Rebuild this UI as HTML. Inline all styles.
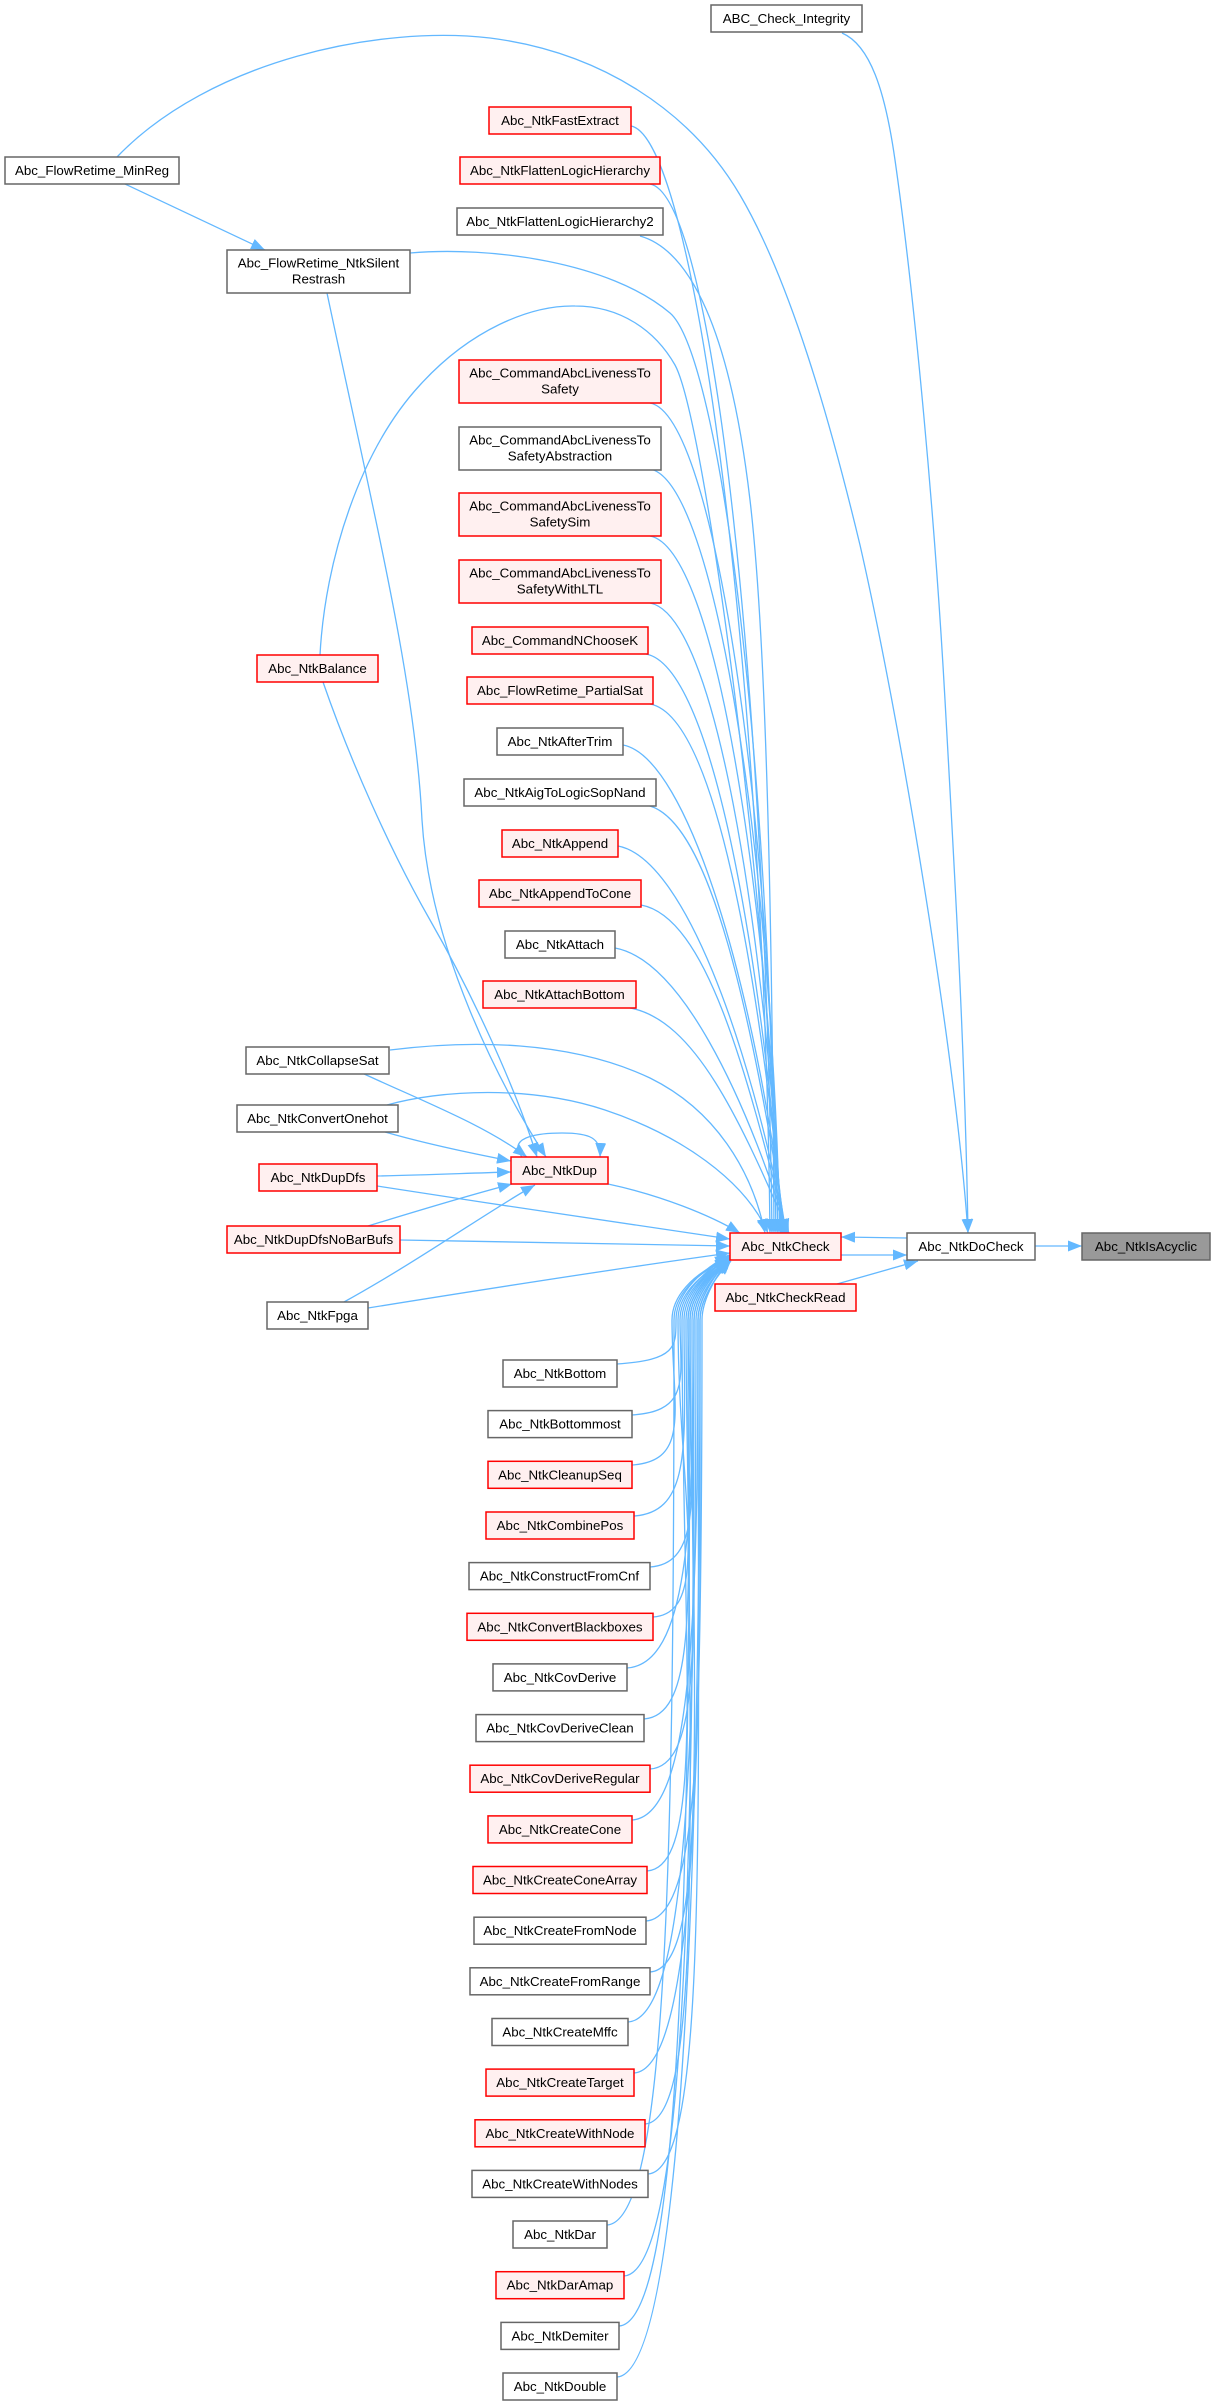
<!DOCTYPE html>
<html>
<head>
<meta charset="utf-8">
<style>
html,body{margin:0;padding:0;background:#fff;}
svg{display:block;}
text{font-family:"Liberation Sans",Arial,Helvetica,sans-serif;font-size:13.33px;fill:#000;text-anchor:middle;}
.r{fill:#fff0f0;stroke:#ff0000;stroke-width:1.5;}
.b{fill:#ffffff;stroke:#666666;stroke-width:1.5;}
.g{fill:#999999;stroke:#666666;stroke-width:1.5;}
.e{fill:none;stroke:#63b8ff;stroke-width:1.3;marker-end:url(#a);}
</style>
</head>
<body>
<svg width="1215" height="2405" viewBox="0 0 1215 2405" xmlns="http://www.w3.org/2000/svg">
<defs>
<marker id="a" viewBox="0 0 14 11" refX="14" refY="5.5" markerWidth="14" markerHeight="11" markerUnits="userSpaceOnUse" orient="auto">
<path d="M0,0L14,5.5L0,11z" fill="#63b8ff"/>
</marker>
</defs>

<!-- ===== EDGES ===== -->
<!-- to DoCheck -->
<path class="e" d="M117,157 C210,60 380,25 490,38 C600,52 690,110 740,195 C790,280 830,420 860,545 C900,720 955,1050 968,1233"/>
<path class="e" d="M842,33 C870,45 885,90 895,160 C915,300 935,520 945,700 C955,880 965,1050 968,1233"/>
<!-- MinReg -> Restrash -->
<path class="e" d="M125,184 L265,250"/>
<!-- Restrash -> Check -->
<path class="e" d="M410,253 C490,246 610,262 670,313 C715,352 768,700 776,1233"/>
<!-- Balance -> Check -->
<path class="e" d="M320,655 C325,560 360,450 420,385 C470,330 530,305 575,306 C620,306 655,330 675,365 C705,420 770,900 778,1233"/>
<!-- to Dup from top -->
<path class="e" d="M327,293 C375,520 415,680 422,820 C430,950 500,1085 546,1157"/>
<path class="e" d="M323,682 C350,760 390,850 430,920 C470,990 515,1085 537,1157"/>
<path class="e" d="M362,1073 C420,1100 485,1125 527,1157"/>
<!-- CollapseSat/ConvertOnehot -> Check -->
<path class="e" d="M390,1050 C470,1040 570,1040 650,1078 C715,1110 752,1170 765,1233"/>
<path class="e" d="M387,1105 C440,1090 530,1085 605,1110 C680,1135 745,1180 768,1233"/>
<!-- left to Dup -->
<path class="e" d="M385,1132 C430,1145 480,1155 511,1161"/>
<path class="e" d="M377,1176 C430,1175 470,1173 511,1172"/>
<path class="e" d="M368,1226 C420,1210 470,1195 512,1184"/>
<path class="e" d="M344,1302 C420,1260 490,1210 535,1185"/>
<!-- left to Check -->
<path class="e" d="M377,1186 C500,1205 650,1228 730,1239"/>
<path class="e" d="M400,1240 C520,1242 650,1245 730,1246"/>
<path class="e" d="M368,1308 C480,1290 620,1268 730,1253"/>
<!-- Dup -> Check -->
<path class="e" d="M608,1184 C660,1195 710,1215 740,1233"/>
<!-- Dup self loop -->
<path class="e" d="M522,1157 C505,1135 545,1133 562,1133 C590,1133 601,1138 600,1157"/>
<!-- Check <-> DoCheck etc -->
<path class="e" d="M907,1238 L841,1237"/>
<path class="e" d="M841,1255 L907,1255"/>
<path class="e" d="M837,1284 L918,1261"/>
<path class="e" d="M1035,1246 L1082,1246"/>

<!-- upper center column -> Check -->
<path class="e" d="M631,126 C696,138 764,680 770,1233"/>
<path class="e" d="M650,184 C715,196 766,708 772,1233"/>
<path class="e" d="M640,236 C690,250 730,330 750,500 C766,636 772,900 774,1233"/>
<path class="e" d="M650,403 C715,415 772,818 778,1233"/>
<path class="e" d="M650,469 C715,481 771,851 780,1233"/>
<path class="e" d="M650,536 C715,548 767,884 781,1233"/>
<path class="e" d="M650,603 C715,615 763,918 782,1233"/>
<path class="e" d="M646,654 C711,666 760,943 783,1233"/>
<path class="e" d="M650,704 C715,716 758,968 784,1233"/>
<path class="e" d="M623,745 C688,757 756,989 785,1233"/>
<path class="e" d="M646,805 C711,817 752,1019 786,1233"/>
<path class="e" d="M618,846 C683,858 749,1039 786,1233"/>
<path class="e" d="M641,905 C706,917 746,1069 787,1233"/>
<path class="e" d="M615,948 C680,960 743,1090 788,1233"/>
<path class="e" d="M630,1008 C695,1020 740,1120 789,1233"/>

<!-- lower center column -> Check -->
<path class="e" d="M617,1364 C677,1360 676,1346 676,1320 C676,1298 694,1274 729,1255"/>
<path class="e" d="M632,1415 C692,1411 680,1377 680,1320 C680,1298 698,1274 730,1256"/>
<path class="e" d="M632,1465 C692,1461 672,1407 672,1320 C672,1298 690,1274 731,1257"/>
<path class="e" d="M634,1516 C694,1512 684,1438 684,1320 C684,1298 702,1274 729,1258"/>
<path class="e" d="M650,1567 C710,1563 688,1468 688,1320 C688,1298 706,1274 730,1259"/>
<path class="e" d="M653,1617 C713,1613 678,1498 678,1320 C678,1298 696,1274 731,1260"/>
<path class="e" d="M627,1668 C687,1664 694,1529 694,1320 C694,1298 712,1274 729,1261"/>
<path class="e" d="M644,1719 C704,1715 686,1559 686,1320 C686,1298 704,1274 730,1255"/>
<path class="e" d="M650,1769 C710,1765 690,1589 690,1320 C690,1298 708,1274 731,1256"/>
<path class="e" d="M632,1820 C692,1816 698,1620 698,1320 C698,1298 716,1274 729,1257"/>
<path class="e" d="M647,1871 C707,1867 682,1651 682,1320 C682,1298 700,1274 730,1258"/>
<path class="e" d="M646,1921 C706,1917 700,1681 700,1320 C700,1298 718,1274 731,1259"/>
<path class="e" d="M650,1972 C710,1968 692,1711 692,1320 C692,1298 710,1274 729,1260"/>
<path class="e" d="M628,2022 C688,2018 696,1741 696,1320 C696,1298 714,1274 730,1261"/>
<path class="e" d="M634,2073 C694,2069 702,1772 702,1320 C702,1298 718,1274 731,1255"/>
<path class="e" d="M645,2124 C705,2120 688,1802 688,1320 C688,1298 706,1274 729,1256"/>
<path class="e" d="M648,2174 C708,2170 698,1832 698,1320 C698,1298 716,1274 730,1257"/>
<path class="e" d="M607,2225 C667,2221 674,1863 674,1320 C674,1298 692,1274 731,1258"/>
<path class="e" d="M624,2276 C684,2272 694,1894 694,1320 C694,1298 712,1274 729,1259"/>
<path class="e" d="M619,2326 C679,2322 690,1924 690,1320 C690,1298 708,1274 730,1260"/>
<path class="e" d="M617,2377 C677,2373 700,1954 700,1320 C700,1298 718,1274 731,1261"/>

<!-- ===== NODES ===== -->
<!-- right side -->
<rect class="b" x="711" y="5" width="151" height="27"/><text x="786.5" y="23">ABC_Check_Integrity</text>
<rect class="b" x="907" y="1233" width="128" height="27"/><text x="971" y="1251">Abc_NtkDoCheck</text>
<rect class="g" x="1082" y="1233" width="128" height="27"/><text x="1146" y="1251">Abc_NtkIsAcyclic</text>
<rect class="r" x="730" y="1233" width="111" height="27"/><text x="785.5" y="1251">Abc_NtkCheck</text>
<rect class="r" x="715" y="1284" width="141" height="27"/><text x="785.5" y="1302">Abc_NtkCheckRead</text>

<!-- left column -->
<rect class="b" x="5" y="157" width="174" height="27"/><text x="92" y="175">Abc_FlowRetime_MinReg</text>
<rect class="b" x="227" y="250" width="183" height="43"/><text x="318.5" y="267.5">Abc_FlowRetime_NtkSilent</text><text x="318.5" y="283.5">Restrash</text>
<rect class="r" x="257" y="655" width="121" height="27"/><text x="317.5" y="673">Abc_NtkBalance</text>
<rect class="b" x="246" y="1047" width="143" height="27"/><text x="317.5" y="1065">Abc_NtkCollapseSat</text>
<rect class="b" x="237" y="1105" width="161" height="27"/><text x="317.5" y="1123">Abc_NtkConvertOnehot</text>
<rect class="r" x="259" y="1164" width="118" height="27"/><text x="318" y="1182">Abc_NtkDupDfs</text>
<rect class="r" x="227" y="1226" width="173" height="27"/><text x="313.5" y="1244">Abc_NtkDupDfsNoBarBufs</text>
<rect class="b" x="267" y="1302" width="101" height="27"/><text x="317.5" y="1320">Abc_NtkFpga</text>

<!-- center upper -->
<rect class="r" x="489" y="107" width="142" height="27"/><text x="560" y="125">Abc_NtkFastExtract</text>
<rect class="r" x="460" y="157" width="200" height="27"/><text x="560" y="175">Abc_NtkFlattenLogicHierarchy</text>
<rect class="b" x="457" y="208" width="206" height="27"/><text x="560" y="226">Abc_NtkFlattenLogicHierarchy2</text>
<rect class="r" x="459" y="360" width="202" height="43"/><text x="560" y="377.5">Abc_CommandAbcLivenessTo</text><text x="560" y="393.5">Safety</text>
<rect class="b" x="459" y="427" width="202" height="43"/><text x="560" y="444.5">Abc_CommandAbcLivenessTo</text><text x="560" y="460.5">SafetyAbstraction</text>
<rect class="r" x="459" y="493" width="202" height="43"/><text x="560" y="510.5">Abc_CommandAbcLivenessTo</text><text x="560" y="526.5">SafetySim</text>
<rect class="r" x="459" y="560" width="202" height="43"/><text x="560" y="577.5">Abc_CommandAbcLivenessTo</text><text x="560" y="593.5">SafetyWithLTL</text>
<rect class="r" x="472" y="627" width="176" height="27"/><text x="560" y="645">Abc_CommandNChooseK</text>
<rect class="r" x="467" y="677" width="186" height="27"/><text x="560" y="695">Abc_FlowRetime_PartialSat</text>
<rect class="b" x="497" y="728" width="126" height="27"/><text x="560" y="746">Abc_NtkAfterTrim</text>
<rect class="b" x="464" y="779" width="192" height="27"/><text x="560" y="797">Abc_NtkAigToLogicSopNand</text>
<rect class="r" x="502" y="830" width="116" height="27"/><text x="560" y="848">Abc_NtkAppend</text>
<rect class="r" x="479" y="880" width="162" height="27"/><text x="560" y="898">Abc_NtkAppendToCone</text>
<rect class="b" x="505" y="931" width="110" height="27"/><text x="560" y="949">Abc_NtkAttach</text>
<rect class="r" x="483" y="981" width="153" height="27"/><text x="559.5" y="999">Abc_NtkAttachBottom</text>
<rect class="r" x="511" y="1157" width="97" height="27"/><text x="559.5" y="1175">Abc_NtkDup</text>

<!-- center lower -->
<rect class="b" x="503" y="1360" width="114" height="27"/><text x="560" y="1378">Abc_NtkBottom</text>
<rect class="b" x="488" y="1410.6" width="144" height="27"/><text x="560" y="1428.6">Abc_NtkBottommost</text>
<rect class="r" x="488" y="1461.3" width="144" height="27"/><text x="560" y="1479.3">Abc_NtkCleanupSeq</text>
<rect class="r" x="486" y="1512" width="148" height="27"/><text x="560" y="1530">Abc_NtkCombinePos</text>
<rect class="b" x="469" y="1562.6" width="181" height="27"/><text x="559.5" y="1580.6">Abc_NtkConstructFromCnf</text>
<rect class="r" x="467" y="1613.3" width="186" height="27"/><text x="560" y="1631.3">Abc_NtkConvertBlackboxes</text>
<rect class="b" x="493" y="1663.9" width="134" height="27"/><text x="560" y="1681.9">Abc_NtkCovDerive</text>
<rect class="b" x="476" y="1714.6" width="168" height="27"/><text x="560" y="1732.6">Abc_NtkCovDeriveClean</text>
<rect class="r" x="470" y="1765.2" width="180" height="27"/><text x="560" y="1783.2">Abc_NtkCovDeriveRegular</text>
<rect class="r" x="488" y="1815.9" width="144" height="27"/><text x="560" y="1833.9">Abc_NtkCreateCone</text>
<rect class="r" x="473" y="1866.5" width="174" height="27"/><text x="560" y="1884.5">Abc_NtkCreateConeArray</text>
<rect class="b" x="474" y="1917.2" width="172" height="27"/><text x="560" y="1935.2">Abc_NtkCreateFromNode</text>
<rect class="b" x="470" y="1967.8" width="180" height="27"/><text x="560" y="1985.8">Abc_NtkCreateFromRange</text>
<rect class="b" x="492" y="2018.5" width="136" height="27"/><text x="560" y="2036.5">Abc_NtkCreateMffc</text>
<rect class="r" x="486" y="2069.1" width="148" height="27"/><text x="560" y="2087.1">Abc_NtkCreateTarget</text>
<rect class="r" x="475" y="2119.8" width="170" height="27"/><text x="560" y="2137.8">Abc_NtkCreateWithNode</text>
<rect class="b" x="472" y="2170.4" width="176" height="27"/><text x="560" y="2188.4">Abc_NtkCreateWithNodes</text>
<rect class="b" x="513" y="2221" width="94" height="27"/><text x="560" y="2239">Abc_NtkDar</text>
<rect class="r" x="496" y="2271.7" width="128" height="27"/><text x="560" y="2289.7">Abc_NtkDarAmap</text>
<rect class="b" x="501" y="2322.4" width="118" height="27"/><text x="560" y="2340.4">Abc_NtkDemiter</text>
<rect class="b" x="503" y="2373" width="114" height="27"/><text x="560" y="2391">Abc_NtkDouble</text>
</svg>
</body>
</html>
